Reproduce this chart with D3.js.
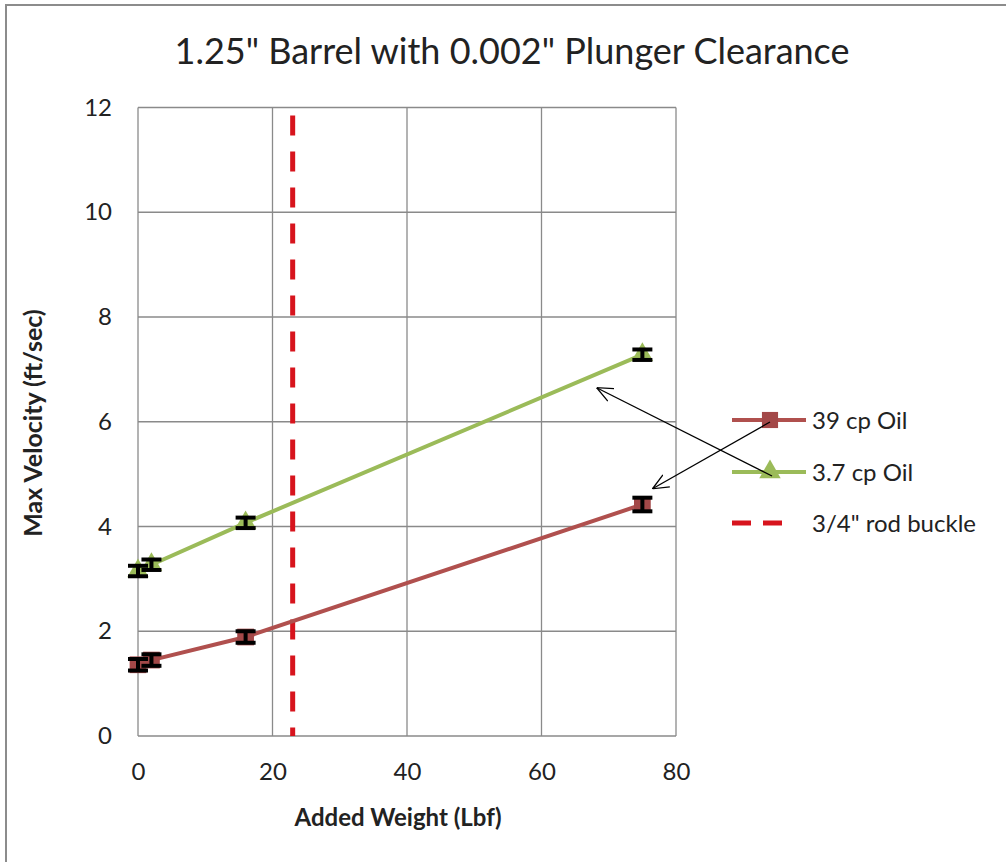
<!DOCTYPE html>
<html>
<head>
<meta charset="utf-8">
<script src="https://cdn.jsdelivr.net/npm/d3@7"></script>
<style>
body { margin: 0; background: #fff; }
text { font-family: Lato, "Open Sans", sans-serif; fill: #222; }
</style>
</head>
<body>
<div class="graphic"></div>
<script>
var width = 1006;
var height = 862;

// data
var weights = [0, 2, 16, 75];
var oil39 = [1.36, 1.45, 1.89, 4.42];
var oil39Err = [0.11, 0.11, 0.11, 0.13];
var oil37 = [3.15, 3.27, 4.07, 7.28];
var oil37Err = [0.1, 0.1, 0.1, 0.1];
var buckleWeight = 23;
var xTicks = [0, 20, 40, 60, 80];
var yTicks = [0, 2, 4, 6, 8, 10, 12];
var legendNames = ["39 cp Oil", "3.7 cp Oil", "3/4\" rod buckle"];

var svg = d3.select("div.graphic").append("svg")
	.attr("width", width)
	.attr("height", height);

// outer chart frame
svg.append("rect")
	.attr("x", 6).attr("y", 5)
	.attr("width", 1020).attr("height", 880)
	.attr("fill", "none")
	.attr("stroke", "#8c8c8c")
	.attr("stroke-width", 2);

var x = d3.scaleLinear().domain([0, 80]).range([138, 676]);
var y = d3.scaleLinear().domain([0, 12]).range([736, 107.5]);

var grid = svg.append("g");
grid.selectAll("line.vg")
	.data(xTicks)
	.enter()
	.append("line")
	.attr("x1", function(d){ return x(d); })
	.attr("x2", function(d){ return x(d); })
	.attr("y1", y(0)).attr("y2", y(12))
	.attr("stroke", "#8a8a8a").attr("stroke-width", 1.3);
grid.selectAll("line.hg")
	.data(yTicks)
	.enter()
	.append("line")
	.attr("y1", function(d){ return y(d); })
	.attr("y2", function(d){ return y(d); })
	.attr("x1", x(0)).attr("x2", x(80))
	.attr("stroke", "#8a8a8a").attr("stroke-width", 1.3);

// axes, tick labels only
var xAxis = svg.append("g")
	.attr("transform", "translate(0," + (y(0) + 17) + ")")
	.call(d3.axisBottom(x).tickValues(xTicks).tickSize(0).tickPadding(10));
var yAxis = svg.append("g")
	.attr("transform", "translate(" + (x(0) - 26) + ",0)")
	.call(d3.axisLeft(y).tickValues(yTicks).tickSize(0).tickPadding(0));
[xAxis, yAxis].forEach(function(a){
	a.select(".domain").remove();
	a.selectAll("text")
		.style("font-size", "24px")
		.style("font-family", "Lato, 'Open Sans', sans-serif")
		.attr("fill", "#222");
});

// title and axis titles
svg.append("text")
	.attr("x", 512).attr("y", 64)
	.attr("text-anchor", "middle")
	.style("font-size", "36px")
	.text("1.25\" Barrel with 0.002\" Plunger Clearance");
svg.append("text")
	.attr("x", 398).attr("y", 826)
	.attr("text-anchor", "middle")
	.style("font-size", "24px")
	.style("font-weight", "bold")
	.text("Added Weight (Lbf)");
svg.append("text")
	.attr("transform", "translate(42,423) rotate(-90)")
	.attr("text-anchor", "middle")
	.style("font-size", "25px")
	.style("font-weight", "bold")
	.text("Max Velocity (ft/sec)");

// rod buckle line
svg.append("line")
	.attr("x1", x(buckleWeight)).attr("x2", x(buckleWeight))
	.attr("y1", y(12) + 8).attr("y2", y(0))
	.attr("stroke", "#d7141d")
	.attr("stroke-width", 5)
	.attr("stroke-dasharray", "20,16");

function drawSeries(values, errs, color, markColor, shape){
	var pts = weights.map(function(w, i){ return [w, values[i], errs[i]]; });
	var g = svg.append("g");
	g.append("path")
		.datum(pts)
		.attr("d", d3.line().x(function(d){ return x(d[0]); }).y(function(d){ return y(d[1]); }))
		.attr("fill", "none")
		.attr("stroke", color)
		.attr("stroke-width", 4);
	g.selectAll("path.mark")
		.data(pts)
		.enter()
		.append("path")
		.attr("transform", function(d){ return "translate(" + x(d[0]) + "," + y(d[1]) + ")"; })
		.attr("d", d3.symbol().type(shape).size(shape === d3.symbolSquare ? 280 : 200))
		.attr("fill", markColor);
	// error bars
	var eb = g.selectAll("g.err")
		.data(pts)
		.enter()
		.append("g")
		.attr("stroke", "#000")
		.attr("stroke-width", 4);
	eb.append("line")
		.attr("x1", function(d){ return x(d[0]); })
		.attr("x2", function(d){ return x(d[0]); })
		.attr("y1", function(d){ return y(d[1] - d[2]); })
		.attr("y2", function(d){ return y(d[1] + d[2]); });
	eb.append("line")
		.attr("x1", function(d){ return x(d[0]) - 10; })
		.attr("x2", function(d){ return x(d[0]) + 10; })
		.attr("y1", function(d){ return y(d[1] - d[2]); })
		.attr("y2", function(d){ return y(d[1] - d[2]); });
	eb.append("line")
		.attr("x1", function(d){ return x(d[0]) - 10; })
		.attr("x2", function(d){ return x(d[0]) + 10; })
		.attr("y1", function(d){ return y(d[1] + d[2]); })
		.attr("y2", function(d){ return y(d[1] + d[2]); });
}

drawSeries(oil39, oil39Err, "#b0504e", "#a34848", d3.symbolSquare);
drawSeries(oil37, oil37Err, "#9bbb59", "#9bbb59", d3.symbolTriangle);

// legend
var legend = svg.append("g");
var legendY = [420, 472, 523];
var colors = ["#b0504e", "#9bbb59", "#d7141d"];
legendNames.forEach(function(name, i){
	var ly = legendY[i];
	var line = legend.append("line")
		.attr("x1", 732).attr("x2", 806)
		.attr("y1", ly).attr("y2", ly)
		.attr("stroke", colors[i])
		.attr("stroke-width", i === 2 ? 5 : 4);
	if (i === 2) line.attr("stroke-dasharray", "19,12").attr("x2", 787);
	if (i === 0) {
		legend.append("path").attr("transform", "translate(770," + ly + ")")
			.attr("d", d3.symbol().type(d3.symbolSquare).size(260)).attr("fill", "#a34848");
	}
	if (i === 1) {
		legend.append("path").attr("transform", "translate(770," + ly + ")")
			.attr("d", d3.symbol().type(d3.symbolTriangle).size(200)).attr("fill", "#9bbb59");
	}
	legend.append("text")
		.attr("x", 812).attr("y", ly + 9)
		.style("font-size", "24px")
		.text(name);
});

// annotation arrows from legend to series
svg.append("defs").append("marker")
	.attr("id", "open")
	.attr("viewBox", "0 -8 16 16")
	.attr("refX", 0).attr("refY", 0)
	.attr("markerWidth", 16).attr("markerHeight", 16)
	.attr("markerUnits", "userSpaceOnUse")
	.attr("orient", "auto")
	.append("path")
	.attr("d", "M16,-7L0,0L16,7")
	.attr("fill", "none")
	.attr("stroke", "#000")
	.attr("stroke-width", 1.3);
var arrows = [
	{from: [770, 422], to: [x(76.5), y(4.72)]},
	{from: [772, 476], to: [x(68.2), y(6.65)]}
];
svg.selectAll("line.arrow")
	.data(arrows)
	.enter()
	.append("line")
	.attr("x1", function(d){ return d.to[0]; })
	.attr("y1", function(d){ return d.to[1]; })
	.attr("x2", function(d){ return d.from[0]; })
	.attr("y2", function(d){ return d.from[1]; })
	.attr("stroke", "#000")
	.attr("stroke-width", 1.3)
	.attr("marker-start", "url(#open)");
</script>
</body>
</html>
